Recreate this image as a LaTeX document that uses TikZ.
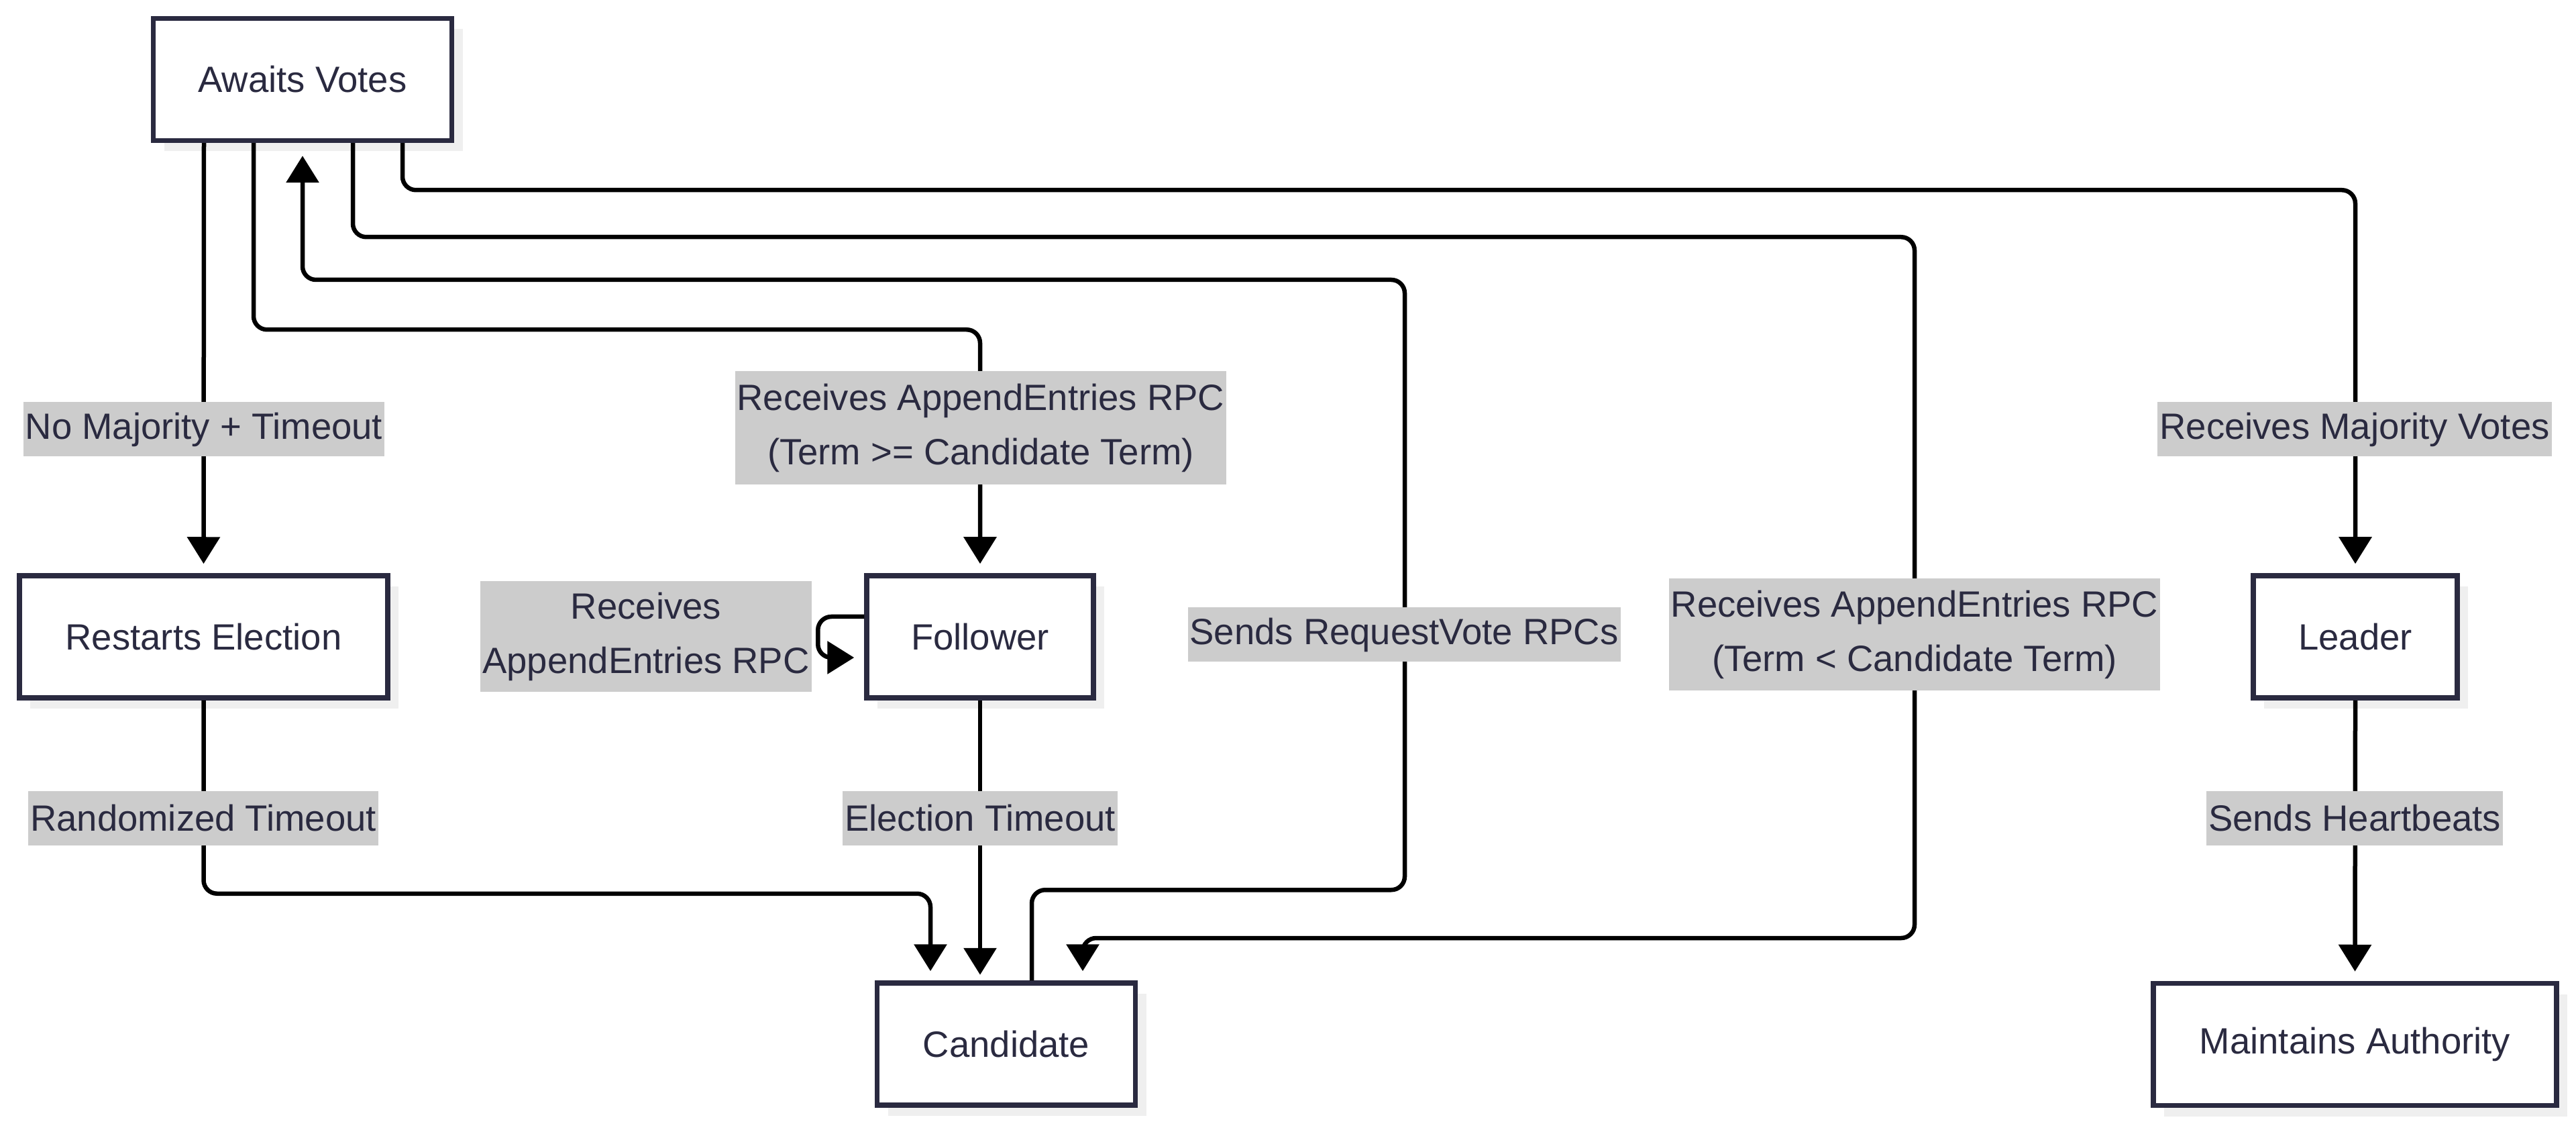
\documentclass[tikz,border=0pt]{standalone}
\usepackage{fontspec}
\setmainfont{Liberation Sans}
\usetikzlibrary{arrows.meta, shadows, positioning}
\definecolor{stink}{HTML}{2A2A40}
\definecolor{lblgray}{HTML}{CCCCCC}
\definecolor{shadegray}{HTML}{EFEFEF}
\tikzset{
  % stato del diagramma
  stbox/.style={draw=stink, line width=0.075cm, fill=white, minimum height=1.82cm,
    text=stink, font=\fontsize{15.5}{23}\selectfont,
    drop shadow={shadow xshift=0.16cm, shadow yshift=-0.16cm, fill=shadegray, opacity=1}},
  % transizione tra stati
  trans/.style={draw=black, line width=0.065cm, rounded corners=0.2cm,
    -{Triangle[length=0.4cm, width=0.48cm]}},
  % etichetta di una transizione
  elbl/.style={fill=lblgray, text=stink, font=\fontsize{15.5}{23}\selectfont,
    inner xsep=0.03cm, inner ysep=0pt, minimum height=0.81cm, align=center},
}

\begin{document}
\begin{tikzpicture}
  \useasboundingbox (0,0) rectangle (38.40,-16.90);
  % stati
  \node[stbox, minimum width=4.45cm] (awaits) at (4.51,-1.185) {Awaits Votes};
  \node[stbox, minimum width=5.49cm] (restarts) at (3.035,-9.49) {Restarts Election};
  \node[stbox, minimum width=3.38cm] (follower) at (14.61,-9.49) {Follower};
  \node[stbox, minimum width=3.85cm] (cand) at (15.00,-15.56) {Candidate};
  \node[stbox, minimum width=3.04cm] (leader) at (35.11,-9.49) {Leader};
  \node[stbox, minimum width=6.01cm] (maint) at (35.105,-15.565) {Maintains Authority};
  % transizioni
  \draw[trans] ([xshift=-1.47cm]awaits.south) -- ([yshift=0.14cm]restarts.north);
  \draw[trans] ([xshift=-0.73cm]awaits.south) -- ++(0,-2.78) -| ([yshift=0.14cm]follower.north);
  \draw[trans] ([xshift=0.38cm]cand.north) -- ++(0,1.35) -| (20.94,-4.17) -| ([yshift=-0.19cm]awaits.south);
  \draw[trans] ([xshift=0.75cm]awaits.south) -- ++(0,-1.40) -| (28.54,-13.98) -| ([xshift=1.14cm,yshift=0.14cm]cand.north);
  \draw[trans] ([xshift=1.49cm]awaits.south) -- ++(0,-0.70) -| ([yshift=0.14cm]leader.north);
  \draw[trans] ([yshift=0.30cm]follower.west) -- ++(-0.69,0) -- ++(0,-0.61) -- ([xshift=-0.15cm,yshift=-0.31cm]follower.west);
  \draw[trans] (restarts.south) -- ++(0,-2.88) -| ([xshift=-1.13cm,yshift=0.14cm]cand.north);
  \draw[trans] (follower.south) -- ++(0,-4.09);
  \draw[trans] (leader.south) -- ([yshift=0.14cm]maint.north);
  % etichette
  \node[elbl] (lnomaj) at (3.04,-6.40) {No Majority + Timeout};
  \node[elbl, minimum height=1.69cm] (lappge) at (14.62,-6.38) {Receives AppendEntries RPC\\(Term >= Candidate Term)};
  \node[elbl] (lmaj) at (35.10,-6.40) {Receives Majority Votes};
  \node[elbl, minimum height=1.65cm] (lself) at (9.63,-9.49) {Receives\\AppendEntries RPC};
  \node[elbl] (lsendrv) at (20.93,-9.46) {Sends RequestVote RPCs};
  \node[elbl, minimum height=1.67cm] (lapplt) at (28.54,-9.46) {Receives AppendEntries RPC\\(Term < Candidate Term)};
  \node[elbl] (lrand) at (3.03,-12.19) {Randomized Timeout};
  \node[elbl] (lelect) at (14.61,-12.19) {Election Timeout};
  \node[elbl] (lheart) at (35.10,-12.19) {Sends Heartbeats};
\end{tikzpicture}
\end{document}
